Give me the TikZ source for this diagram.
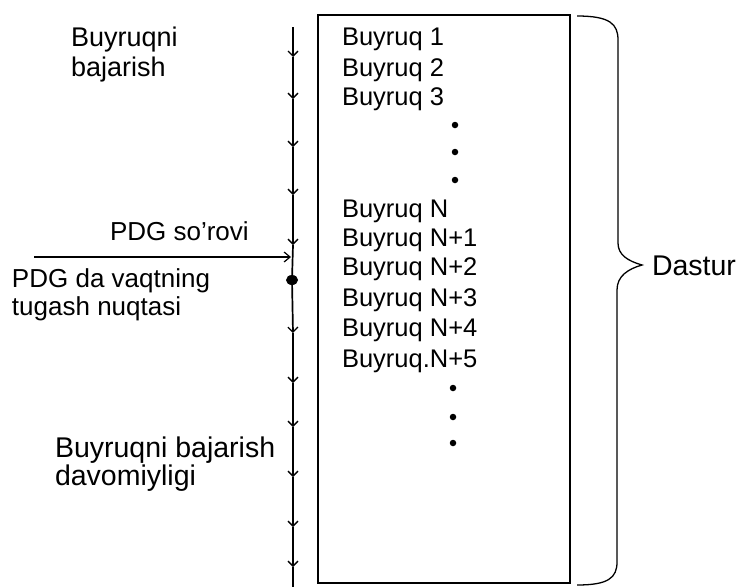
\documentclass[tikz,border=0pt]{standalone}
\usepackage{fontspec}
\setmainfont{Liberation Sans}
\usetikzlibrary{arrows.meta,shapes.geometric}

\tikzset{
  every node/.style={inner sep=0pt, outer sep=0pt, anchor=base west},
  boxtext/.style={font=\fontsize{25.5}{30}\selectfont},
  sidetext/.style={font=\fontsize{27}{30}\selectfont},
  pdgtext/.style={font=\fontsize{26}{30}\selectfont},
  timeline/.style={line width=1.7pt, -{Straight Barb[length=5pt,width=10pt,line width=1.3pt]}},
  contdot/.style={fill=black, circle, minimum size=6.5pt, anchor=center},
}

\begin{document}
\begin{tikzpicture}[x=1pt, y=-1pt]
  \useasboundingbox (0,0) rectangle (749,587);

  % program box
  \draw[line width=2.6pt] (318,15) rectangle (570,583);

  % instruction list
  \node[boxtext] (b1) at (342,45) {Buyruq 1};
  \node[boxtext] (b2) at (342,76) {Buyruq 2};
  \node[boxtext] (b3) at (342,105) {Buyruq 3};
  \node[contdot] (d1) at (455,125) {};
  \node[contdot] (d2) at (455,152) {};
  \node[contdot] (d3) at (455,180) {};
  \node[boxtext] (bn)  at (342,217) {Buyruq N};
  \node[boxtext] (bn1) at (342,246) {Buyruq N+1};
  \node[boxtext] (bn2) at (342,275) {Buyruq N+2};
  \node[boxtext] (bn3) at (342,306) {Buyruq N+3};
  \node[boxtext] (bn4) at (342,336) {Buyruq N+4};
  \node[boxtext] (bn5) at (342,367) {Buyruq.N+5};
  \node[contdot] (d4) at (453,388) {};
  \node[contdot] (d5) at (453,417) {};
  \node[contdot] (d6) at (453,443) {};

  % brace and its label
  \draw[line width=1.3pt]
    (577,16) .. controls (610,16) and (618,24) .. (618,40)
    -- (618,243) .. controls (618,255) and (628,261) .. (642,265)
    .. controls (628,269) and (617,276) .. (617,290)
    -- (617,562) .. controls (617,578) and (608,585) .. (577,585);
  \node[font=\fontsize{28.5}{30}\selectfont] (dastur) at (652,275) {Dastur};

  % time axis with instruction ticks
  \coordinate (t0) at (293,27);
  \coordinate (t1) at (293,57);
  \coordinate (t2) at (293,99);
  \coordinate (t3) at (293,147);
  \coordinate (t4) at (293,195);
  \coordinate (t5) at (293,245);
  \coordinate (t6) at (293,333);
  \coordinate (t7) at (293,383);
  \coordinate (t8) at (293,427);
  \coordinate (t9) at (293,477);
  \coordinate (t10) at (293,527);
  \coordinate (t11) at (293,567);
  \coordinate (t12) at (293,587);
  \node[fill=black, ellipse, minimum width=12pt, minimum height=10pt, anchor=center] (stop) at (292,280) {};

  \draw[timeline] (t0) -- (t1);
  \draw[timeline] (t1) -- (t2);
  \draw[timeline] (t2) -- (t3);
  \draw[timeline] (t3) -- (t4);
  \draw[timeline] (t4) -- (t5);
  \draw[line width=1.7pt] (t5) -- (stop.center);
  \draw[timeline] (stop.center) -- (t6);
  \draw[timeline] (t6) -- (t7);
  \draw[timeline] (t7) -- (t8);
  \draw[timeline] (t8) -- (t9);
  \draw[timeline] (t9) -- (t10);
  \draw[timeline] (t10) -- (t11);
  \draw[line width=1.7pt] (t11) -- (t12);

  % interrupt request
  \coordinate (req) at (34,257);
  \coordinate (hit) at (291,257);
  \draw[line width=1.2pt, -{Straight Barb[length=6pt,width=10pt,line width=1.2pt]}] (req) -- (hit);

  % side labels
  \node[sidetext] (exec1) at (71,46) {Buyruqni};
  \node[sidetext] (exec2) at (71,76) {bajarish};
  \node[pdgtext] (pdgreq) at (110,240) {PDG so’rovi};
  \node[pdgtext] (pdgend1) at (12,287) {PDG da vaqtning};
  \node[pdgtext] (pdgend2) at (12,315) {tugash nuqtasi};
  \node[font=\fontsize{28.5}{30}\selectfont] (dur1) at (55,457) {Buyruqni bajarish};
  \node[font=\fontsize{28.5}{30}\selectfont] (dur2) at (55,485) {davomiyligi};
\end{tikzpicture}
\end{document}
